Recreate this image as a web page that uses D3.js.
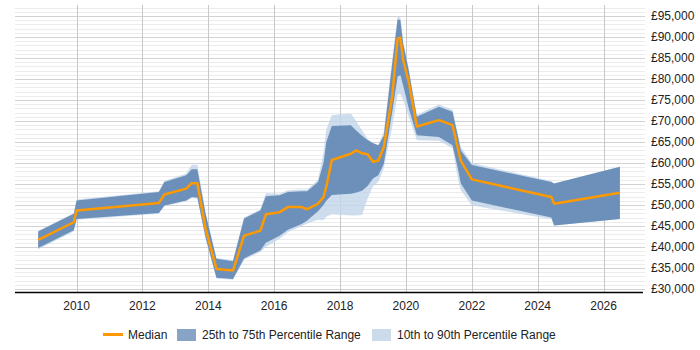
<!DOCTYPE html>
<html>
<head>
<meta charset="utf-8">
<script src="https://cdn.jsdelivr.net/npm/d3@7"></script>
<style>
    body { margin: 0; background: #fff; }
    svg { display: block; font-family: "Liberation Sans", Arial, sans-serif; }
</style>
</head>
<body>
<svg id="chart" width="700" height="350"></svg>
<script>
// salary percentiles by month
const dates = [
    '2008-11', '2009-12', '2010-01', '2012-07', '2012-09', '2013-05', '2013-07', '2013-09',
    '2013-12', '2014-04', '2014-10', '2015-02', '2015-08', '2015-10', '2016-03', '2016-06',
    '2016-11', '2017-01', '2017-05', '2017-07', '2017-08', '2017-10', '2018-05', '2018-07',
    '2018-09', '2018-11', '2019-01', '2019-03', '2019-05', '2019-08', '2019-10', '2019-11',
    '2019-12', '2020-02', '2020-05', '2021-01', '2021-06', '2021-08', '2021-09', '2022-01',
    '2024-06', '2024-07', '2026-07'
];
const p10 = [
    39500, 43700, 46500, 47900, 49700, 50900, 51600, 51500,
    42000, 32500, 32200, 37000, 38800, 40000, 42000, 43500,
    45000, 45600, 46500, 46400, 47200, 47800, 47500, 47500,
    47600, 51500, 54500, 55500, 58800, 68500, 76300, 76500,
    75000, 71000, 65400, 65300, 63500, 56000, 53500, 49900,
    46600, 45100, 46700
];
const p25 = [
    39800, 44000, 46700, 48100, 49900, 51100, 51900, 51800,
    42300, 32700, 32400, 37300, 39200, 41000, 42700, 44100,
    45500, 46300, 48500, 50000, 51000, 52400, 52700, 53000,
    53400, 54500, 56300, 57100, 59800, 72000, 80600, 80900,
    78500, 73000, 66600, 66200, 64200, 58500, 55100, 51100,
    47000, 45100, 46700
];
const median = [
    41700, 45900, 48700, 50500, 52500, 53900, 55200, 55200,
    44400, 34800, 34400, 42700, 43900, 47800, 48300, 49500,
    49500, 49000, 50300, 51900, 54300, 60700, 62200, 63000,
    62300, 62100, 60300, 60600, 63800, 75700, 89600, 89800,
    84500, 79300, 68700, 70200, 69000, 63400, 60500, 56100,
    51900, 50300, 52900
];
const p75 = [
    43700, 47900, 51100, 53100, 55500, 57100, 58500, 58500,
    48000, 37200, 36600, 46800, 48700, 52100, 52300, 53100,
    53300, 53300, 55500, 60000, 65000, 68800, 69000, 67700,
    66500, 65500, 64700, 64200, 66500, 83500, 94200, 94000,
    88500, 82100, 71000, 73400, 72200, 66200, 63000, 59500,
    55500, 55100, 59100
];
const p90 = [
    43900, 48100, 51300, 53300, 55700, 57500, 59600, 59600,
    48300, 37400, 36900, 47000, 49000, 52800, 52700, 53500,
    53700, 53700, 56000, 62500, 68000, 71400, 71800, 69900,
    67800, 65800, 64800, 64300, 67500, 84500, 94800, 94600,
    89000, 82500, 71500, 73900, 72700, 66800, 63800, 60000,
    55700, 55100, 59100
];
const yearTicks = [2010, 2012, 2014, 2016, 2018, 2020, 2022, 2024, 2026];
const legendLabels = ['Median', '25th to 75th Percentile Range', '10th to 90th Percentile Range'];

const plotLeft = 15;
const plotRight = 643;
const plotTop = 5;
const plotBottom = 292;

const parseMonth = d3.timeParse('%Y-%m');
const rows = dates.map((d, i) => ({
    date: parseMonth(d),
    p10: p10[i],
    p25: p25[i],
    median: median[i],
    p75: p75[i],
    p90: p90[i],
}));

const svg = d3.select('#chart');

const xScale = d3.scaleTime()
    .domain([new Date(2008, 1, 18), new Date(2027, 2, 14)])
    .range([plotLeft, plotRight]);
const yScale = d3.scaleLinear()
    .domain([29300, 97600])
    .range([plotBottom, plotTop]);

// minor gridlines every 1,000, major every 5,000
const gridValues = d3.range(30000, 97001, 1000);
svg.append('g')
    .selectAll('line')
    .data(gridValues)
    .join('line')
    .attr('x1', plotLeft)
    .attr('x2', plotRight + 2)
    .attr('y1', d => Math.round(yScale(d)) + 0.5)
    .attr('y2', d => Math.round(yScale(d)) + 0.5)
    .attr('stroke', d => d % 5000 === 0 ? '#d2d2d2' : '#ececec')
    .attr('stroke-width', 1);

svg.append('g')
    .selectAll('line')
    .data(yearTicks)
    .join('line')
    .attr('x1', d => Math.round(xScale(new Date(d, 0, 1))) + 0.5)
    .attr('x2', d => Math.round(xScale(new Date(d, 0, 1))) + 0.5)
    .attr('y1', plotTop)
    .attr('y2', plotBottom)
    .attr('stroke', '#c8c8c8')
    .attr('stroke-width', 1);

const outerArea = d3.area()
    .x(d => xScale(d.date))
    .y0(d => yScale(d.p10))
    .y1(d => yScale(d.p90));
const innerArea = d3.area()
    .x(d => xScale(d.date))
    .y0(d => yScale(d.p25))
    .y1(d => yScale(d.p75));
const medianLine = d3.line()
    .x(d => xScale(d.date))
    .y(d => yScale(d.median));

svg.append('path')
    .datum(rows)
    .attr('d', outerArea)
    .attr('fill', '#c3d6eb')
    .attr('fill-opacity', 0.8);

svg.append('path')
    .datum(rows)
    .attr('d', innerArea)
    .attr('fill', '#5b82b0')
    .attr('fill-opacity', 0.85);

svg.append('path')
    .datum(rows)
    .attr('d', medianLine)
    .attr('fill', 'none')
    .attr('stroke', '#ff9900')
    .attr('stroke-width', 2.5)
    .attr('stroke-linejoin', 'round');

// x axis
svg.append('line')
    .attr('x1', plotLeft)
    .attr('x2', plotRight)
    .attr('y1', plotBottom + 0.5)
    .attr('y2', plotBottom + 0.5)
    .attr('stroke', '#000')
    .attr('stroke-width', 1.5);

svg.append('g')
    .selectAll('text')
    .data(yearTicks)
    .join('text')
    .attr('x', d => xScale(new Date(d, 0, 1)))
    .attr('y', 310)
    .attr('text-anchor', 'middle')
    .attr('font-size', 12)
    .attr('fill', '#222')
    .text(d => d);

// y labels on the right
const formatPound = d => '£' + d3.format(',')(d);
svg.append('g')
    .selectAll('text')
    .data(d3.range(30000, 95001, 5000))
    .join('text')
    .attr('x', 651)
    .attr('y', d => yScale(d))
    .attr('dy', '0.35em')
    .attr('font-size', 12)
    .attr('fill', '#222')
    .text(formatPound);

// legend
const legend = svg.append('g');
legend.append('line')
    .attr('x1', 103).attr('x2', 123)
    .attr('y1', 334.5).attr('y2', 334.5)
    .attr('stroke', '#ff9900')
    .attr('stroke-width', 3);
legend.append('rect')
    .attr('x', 177).attr('y', 329)
    .attr('width', 19).attr('height', 12)
    .attr('fill', '#87a3c5');
legend.append('rect')
    .attr('x', 372).attr('y', 329)
    .attr('width', 19).attr('height', 12)
    .attr('fill', '#cbdbec');
legend.selectAll('text')
    .data(legendLabels)
    .join('text')
    .attr('x', (d, i) => [128, 202, 397][i])
    .attr('y', 339)
    .attr('font-size', 12)
    .attr('fill', '#222')
    .text(d => d);
</script>
</body>
</html>
